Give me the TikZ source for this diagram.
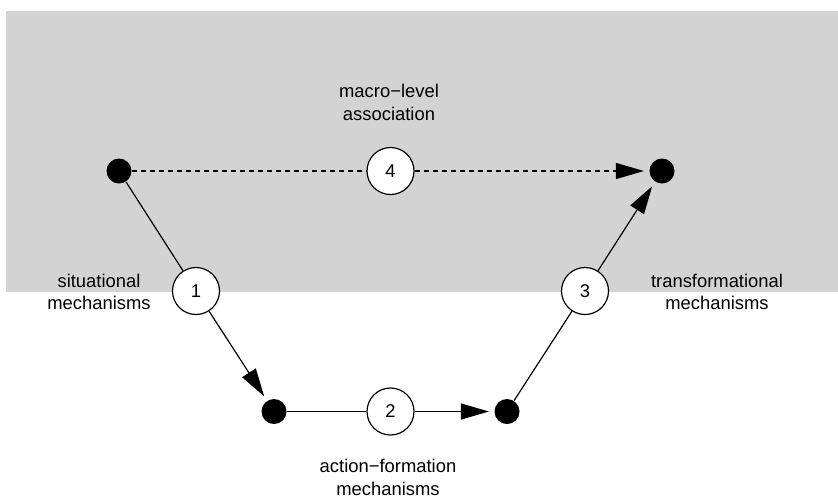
\documentclass[tikz,border=0pt]{standalone}
\usepackage{fontspec}
\setmainfont{Liberation Sans}
\usepackage{tikz}
\usetikzlibrary{arrows.meta}
\definecolor{bandgray}{gray}{0.827}
\tikzset{
  dot/.style={circle,fill=black,inner sep=0pt,minimum size=12.5pt},
  mech/.style={circle,draw,fill=white,inner sep=0pt,minimum size=23.5pt},
  lbl/.style={align=center},
  tip/.style={->,shorten >=2.5pt},
  assoc/.style={dash pattern=on 2.5pt off 2pt},
}

\begin{document}
\begin{tikzpicture}[x=0.5pt,y=-0.5pt,line width=0.6pt,
  >={Triangle[length=14pt,width=8pt]},
  font=\fontsize{9.2}{11.4}\selectfont]
\useasboundingbox (0,0) rectangle (838,499);
\fill[bandgray] (6,11) rectangle (838,292);
% macro level
\node[dot] (A) at (119,171) {};
\node[dot] (B) at (662,171) {};
% micro level
\node[dot] (C) at (274,411.5) {};
\node[dot] (D) at (507,411.5) {};
% mechanisms
\node[mech] (m1) at (196,291) {1};
\node[mech] (m2) at (390.5,411.5) {2};
\node[mech] (m3) at (585,291) {3};
\node[mech] (m4) at (390.5,171) {4};
% labels
\node[lbl] (macro) at (389,102.5) {macro−level\\association};
\node[lbl] (situ) at (99,292) {situational\\mechanisms};
\node[lbl] (trans) at (717,292) {transformational\\mechanisms};
\node[lbl] (action) at (388,477.5) {action−formation\\mechanisms};
\draw
  (A) edge (m1)
  (m1) edge [tip] (C)
  (C) edge (m2)
  (m2) edge [tip] (D)
  (D) edge (m3)
  (m3) edge [tip] (B)
%
  (A) edge [assoc] (m4)
  (m4) edge [tip,assoc] (B);
\end{tikzpicture}
\end{document}
